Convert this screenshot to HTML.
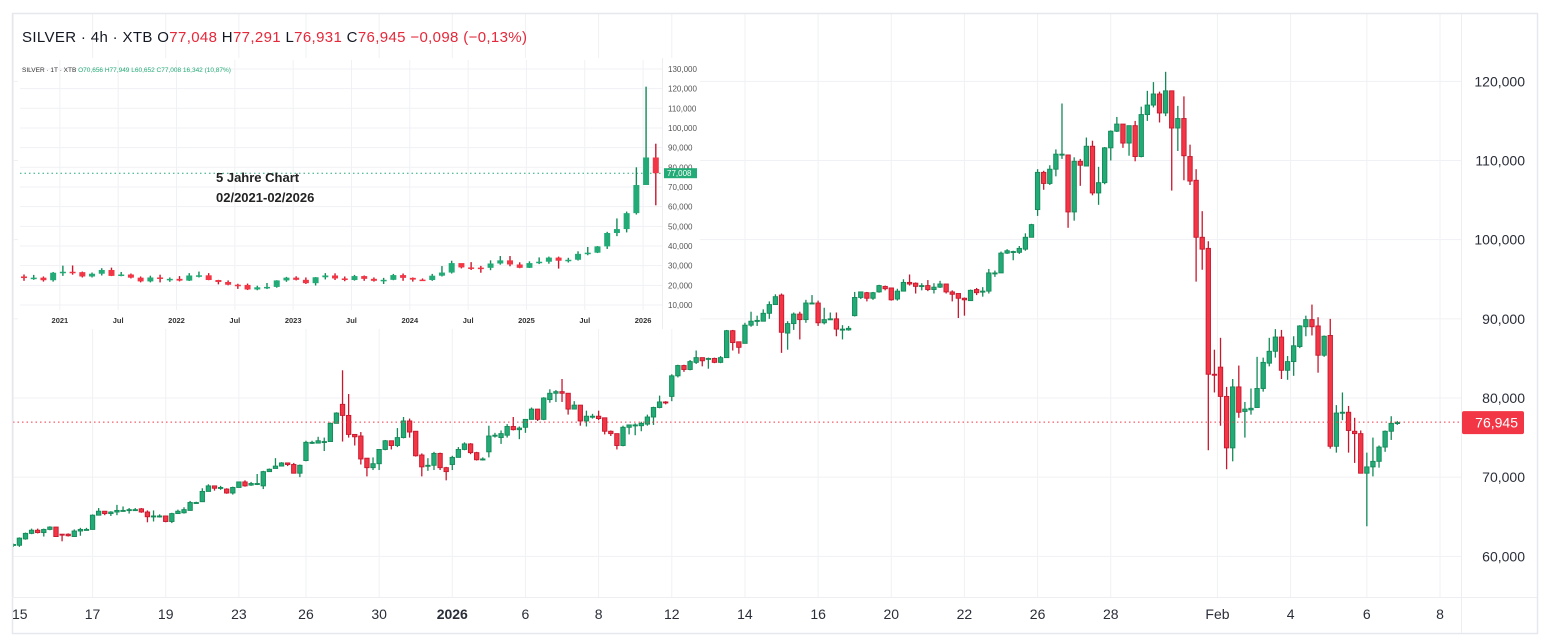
<!DOCTYPE html>
<html><head><meta charset="utf-8"><title>SILVER 4h</title>
<style>
html,body{margin:0;padding:0;background:#fff;}
svg{display:block;font-family:"Liberation Sans",Arial,sans-serif;}
</style></head>
<body>
<svg id="chart" width="1548" height="643" viewBox="0 0 1548 643" xmlns="http://www.w3.org/2000/svg">
  <rect x="0" y="0" width="1548" height="643" fill="#fff"/>
  <g id="grid"></g>
  <g id="candles"></g>
  <g id="inset"></g>
  <g id="axes"></g>
  <text x="22" y="42" font-size="15" fill="#131722" textLength="505" lengthAdjust="spacing">SILVER · 4h · XTB <tspan>O</tspan><tspan fill="#e5283a">77,048</tspan> <tspan>H</tspan><tspan fill="#e5283a">77,291</tspan> <tspan>L</tspan><tspan fill="#e5283a">76,931</tspan> <tspan>C</tspan><tspan fill="#e5283a">76,945</tspan> <tspan fill="#e5283a">−0,098 (−0,13%)</tspan></text>
</svg>
<script>
// ===== Main chart data (prices in thousands) =====
const opens = [61.4,61.4,62.2,62.9,63.3,63.0,63.4,63.7,62.8,62.8,62.5,63.2,63.4,63.4,65.2,65.7,65.4,65.6,65.8,65.8,65.9,66.0,65.6,65.1,65.1,65.1,64.4,65.4,65.5,65.8,66.8,66.9,68.2,68.9,68.7,68.5,68.0,68.7,69.4,69.0,69.2,68.9,70.7,71.1,71.4,71.8,71.6,70.5,72.1,74.4,74.3,74.5,74.5,76.8,79.2,77.8,75.4,75.2,72.4,71.2,71.7,73.5,74.6,74.0,75.0,77.1,75.8,72.8,71.5,71.5,73.0,71.2,71.6,72.5,
73.5,74.2,73.1,72.3,73.2,75.3,75.0,75.3,76.4,76.0,76.3,77.3,78.6,77.3,79.8,80.6,80.8,80.6,78.6,79.1,77.1,77.7,77.7,77.5,75.8,75.5,74.0,76.3,76.6,76.5,76.7,77.6,78.8,79.5,80.2,82.8,84.1,83.6,84.5,85.1,85.0,85.0,84.5,85.1,88.5,87.1,86.9,89.2,89.8,89.7,90.7,91.8,93.0,88.2,89.4,90.6,89.9,92.0,92.0,89.5,90.0,90.0,88.7,88.6,90.4,92.7,93.3,92.6,93.4,
94.1,93.9,92.5,93.5,94.6,94.5,94.2,94.2,93.7,94.0,94.4,93.4,93.2,92.6,92.3,93.7,93.5,93.5,95.8,95.8,98.3,98.5,98.4,98.8,100.3,103.8,108.5,107.1,108.9,110.8,110.7,103.5,109.9,109.3,111.8,105.9,107.2,111.6,113.7,114.6,112.2,114.4,110.5,115.8,117.0,118.4,116.0,118.8,114.1,115.3,110.5,107.5,
100.3,98.9,83.0,83.9,80.2,73.7,81.4,78.3,78.5,78.8,81.2,84.4,85.9,87.7,83.5,84.6,86.5,89.0,89.9,89.1,85.4,87.9,73.9,78.2,78.2,75.8,75.5,70.5,71.3,72.0,73.8,75.8,76.9];
const closes = [61.5,62.3,62.9,63.3,63.0,63.4,63.7,62.5,62.7,62.6,63.2,63.4,63.4,65.2,65.7,65.4,65.6,65.8,65.8,65.9,65.9,65.6,65.0,65.1,65.1,64.4,65.4,65.7,65.9,66.8,66.8,68.2,68.9,68.6,68.7,68.0,68.7,69.4,68.9,69.2,69.2,70.7,71.0,71.4,71.8,71.6,70.5,71.5,74.4,74.4,74.6,74.5,76.8,78.1,77.8,75.4,75.1,72.3,71.2,71.7,73.5,74.6,74.0,75.0,77.1,75.7,72.7,71.3,71.5,73.0,71.2,70.7,72.5,73.5,
74.2,73.1,72.2,72.3,75.2,75.3,75.5,76.4,76.0,76.2,77.3,78.6,77.3,80.0,80.6,80.8,80.6,78.6,79.1,77.1,77.7,77.7,77.4,75.8,75.5,74.0,76.3,76.6,76.6,76.8,77.6,78.8,79.5,79.4,82.8,84.1,83.6,84.6,85.1,84.7,85.0,84.5,85.1,88.5,87.0,86.4,89.2,89.7,89.8,90.7,91.8,92.8,88.3,89.4,90.6,89.9,92.0,92.0,89.5,89.9,90.0,88.7,88.7,88.8,92.7,93.4,92.6,93.3,94.2,
93.8,92.4,93.5,94.6,94.4,94.1,94.2,93.7,94.0,94.4,93.4,93.1,92.6,92.4,93.6,93.3,93.5,95.8,95.8,98.3,98.6,98.5,98.9,100.3,101.9,108.5,107.1,108.9,110.8,110.8,103.5,109.9,109.4,111.8,105.9,107.2,111.6,113.7,114.6,112.2,114.4,110.5,115.8,117.0,118.4,116.0,118.8,114.1,115.3,110.6,107.4,100.3,
98.8,83.0,82.9,80.2,73.7,81.4,78.2,78.6,78.7,81.2,84.5,85.9,87.7,83.5,84.6,86.6,89.1,89.9,89.0,85.4,87.8,73.9,78.1,78.2,75.9,75.5,70.5,71.3,72.0,73.8,75.8,76.8,76.9];
const highs = [61.6,62.4,63.0,63.5,63.5,63.5,63.8,63.7,62.8,62.9,63.4,63.6,63.6,65.3,66.1,65.7,65.7,66.5,66.3,66.1,66.1,66.1,65.8,65.8,65.3,65.1,65.5,65.9,66.2,67.0,66.9,68.6,69.1,68.9,68.9,68.6,68.8,69.4,69.6,69.4,70.4,70.8,71.1,72.4,71.9,71.8,71.8,71.6,74.6,74.6,75.1,75.0,76.9,78.2,83.5,80.5,75.4,75.7,72.4,72.5,73.5,74.7,74.6,76.2,77.6,77.4,75.8,73.0,72.4,73.2,73.1,71.3,72.7,73.8,
74.4,74.3,73.2,72.5,76.5,75.6,75.9,76.7,77.6,76.4,77.3,78.8,78.6,80.1,81.1,81.0,82.4,80.6,79.6,79.1,78.4,78.0,78.4,77.5,75.9,75.5,76.5,76.6,76.8,77.0,77.9,78.9,80.3,79.6,83.0,84.2,84.2,84.8,86.0,85.1,85.1,85.1,85.3,88.6,88.6,87.1,89.5,90.9,90.4,91.2,92.2,93.1,93.2,89.7,90.8,90.9,92.4,93.0,92.3,91.4,90.8,90.8,89.2,89.1,93.4,93.4,93.4,93.4,94.3,
94.2,93.9,93.8,95.0,95.6,94.6,94.5,94.9,94.5,94.8,94.4,93.6,93.2,92.7,93.7,93.9,94.0,96.3,96.1,98.5,98.8,98.6,99.2,100.8,102.0,108.9,108.7,109.4,111.4,117.2,110.7,110.4,110.2,112.9,112.5,109.2,111.7,113.8,115.5,114.6,114.4,115.0,116.8,118.8,119.9,118.7,121.2,118.8,116.9,118.1,112.0,108.9,
103.6,99.8,86.1,87.6,81.4,82.4,84.1,79.5,81.2,85.2,85.1,87.6,88.7,88.6,85.3,87.8,89.2,90.4,91.8,90.2,87.9,90.0,79.1,80.7,79.0,77.5,75.9,73.1,75.0,74.0,75.9,77.7,77.1];
const lows = [61.2,61.2,62.1,62.8,62.9,62.5,63.3,62.5,61.9,62.5,62.5,62.6,63.3,63.4,65.2,65.2,65.1,65.2,65.8,65.4,65.9,65.5,64.3,64.4,64.9,64.3,64.2,65.4,65.4,65.8,66.8,66.9,68.2,68.3,68.4,67.9,67.8,68.7,68.8,68.9,69.0,68.5,70.7,71.1,71.4,71.4,70.5,70.0,72.0,74.2,74.3,73.3,74.5,76.8,74.5,75.0,74.0,71.6,70.1,70.9,70.9,73.4,73.5,73.8,74.9,75.0,72.6,70.1,70.8,70.9,70.9,69.6,70.9,72.5,
73.4,72.9,72.1,72.1,72.5,75.0,74.2,75.0,75.9,74.8,75.6,77.3,77.1,77.2,79.4,79.5,79.5,77.9,78.6,76.5,76.4,77.4,77.2,75.4,75.2,73.5,73.9,75.4,75.3,75.8,76.5,76.6,78.7,79.2,79.6,82.6,83.3,83.5,84.3,84.0,83.7,84.4,84.4,85.1,86.0,85.6,86.9,89.0,89.1,89.7,90.0,91.8,85.7,86.1,88.6,87.4,89.5,91.9,89.1,89.3,90.0,87.8,87.4,88.5,90.3,92.5,92.2,92.4,93.3,
93.6,92.3,92.3,93.5,94.2,93.2,93.6,93.5,93.2,93.9,93.2,92.2,90.1,90.4,92.3,93.0,92.8,93.2,95.3,95.8,98.2,97.4,98.2,98.6,100.3,103.0,106.3,106.9,108.0,110.2,101.5,102.4,106.8,109.3,105.6,104.4,107.0,110.0,113.6,111.6,110.6,109.9,110.4,115.0,116.7,114.8,115.6,106.2,111.2,107.5,106.9,94.7,
96.2,73.4,80.7,76.5,71.0,72.0,77.5,75.0,77.9,78.8,80.8,84.0,85.1,82.4,82.3,82.8,86.3,87.8,87.9,83.2,85.2,73.6,73.1,77.2,73.1,71.8,70.5,63.8,70.1,71.2,73.2,74.7,76.6];
const priceTicks = [60,70,80,90,100,110,120];
const priceTickLabels = ["60,000","70,000","80,000","90,000","100,000","110,000","120,000"];
const dateLabels = ["15","17","19","23","26","30","2026","6","8","12","14","16","20","22","26","28","Feb","4","6","8"];
const dateLabelIdx = [0,13,25,37,48,60,72,84,96,108,120,132,144,156,168,180,197.5,209.5,222,234];
const lastPrice = 76.945;
const lastPriceLabel = "76,945";

// ===== Inset (5-year monthly) data =====
const insetCloses = [23.7,23.9,22.6,26.4,26.9,26.7,24.5,25.9,27.8,24.8,25.5,23.9,22.0,24.0,23.3,23.3,22.4,25.0,25.1,22.7,21.7,20.3,20.2,17.9,19.0,19.2,22.5,23.9,22.8,21.1,24.1,25.0,23.5,22.7,24.7,23.3,22.3,22.8,25.2,23.8,22.9,22.7,24.9,26.5,31.3,29.1,29.0,28.9,31.1,32.7,30.6,28.9,31.3,32.0,34.1,32.5,33.0,36.0,36.6,39.8,46.6,48.6,56.7,71.0,85.0,77.0];
const insetHighs = [25.5,25.3,24.5,26.8,30.0,30.1,27.0,26.5,28.7,29.0,26.8,26.0,24.5,24.9,25.4,24.0,24.7,26.2,27.0,26.2,22.8,22.5,20.8,20.9,19.8,21.2,22.6,24.3,24.6,24.0,24.2,26.2,26.1,24.5,25.3,25.0,24.0,23.8,25.8,26.0,24.0,23.5,25.8,29.8,32.5,31.0,31.8,29.9,32.7,34.9,34.9,31.7,32.2,34.2,34.6,34.6,34.0,37.3,39.5,40.0,47.2,54.0,57.5,80.0,121.0,92.0];
const insetLows = [22.3,22.8,21.9,21.9,24.8,25.4,24.0,24.0,25.0,24.7,24.6,23.5,21.5,21.5,21.5,21.8,22.0,22.2,24.0,22.6,20.5,20.0,18.2,17.6,17.5,18.1,18.8,21.8,22.5,20.7,19.9,23.0,22.7,22.1,22.4,22.3,21.9,20.7,22.6,22.3,21.9,22.3,22.3,24.5,26.0,28.6,27.8,26.4,27.7,30.5,29.7,28.7,28.8,30.8,31.0,28.5,31.6,32.6,35.3,36.4,38.5,45.0,46.9,56.0,71.0,60.7];
const insetFirstOpen = 24.5;
const insetTicks = [10,20,30,40,50,60,70,80,90,100,110,120,130];
const insetTickLabels = ["10,000","20,000","30,000","40,000","50,000","60,000","70,000","80,000","90,000","100,000","110,000","120,000","130,000"];
const insetYearLabels = ["2021","Jul","2022","Jul","2023","Jul","2024","Jul","2025","Jul","2026"];
const insetYearMonthIdx = [4,10,16,22,28,34,40,46,52,58,64];
const insetLast = 77.008;
const insetLastLabel = "77,008";

// ===== Scales =====
const NS = "http://www.w3.org/2000/svg";
function xMain(i){ return 13.3 + i*6.097; }
function yMain(p){ return 398 - (p-80)*7.917; }
function xInset(k){ return 24 + k*9.72; }
function yInset(p){ return 305 - (p-10)*1.967; }
function mk(tag, attrs, parent){
  const e = document.createElementNS(NS, tag);
  for (const k in attrs) e.setAttribute(k, attrs[k]);
  parent.appendChild(e); return e;
}
const UP="#22ab76", UPS="#138a58", DN="#f23645", DNS="#c8172e";

const grid = document.getElementById('grid');
const cg = document.getElementById('candles');
const axes = document.getElementById('axes');
const inset = document.getElementById('inset');

priceTicks.forEach(p=>{
  const l = mk('line',{x1:12,x2:1461,y1:yMain(p),y2:yMain(p),stroke:'#f0f1f4','stroke-width':1},grid);
  
  
});
dateLabelIdx.forEach(i=>{
  const l = mk('line',{x1:xMain(i),x2:xMain(i),y1:14,y2:597,stroke:'#f0f1f4','stroke-width':1},grid);
  
  
});

const clip = mk('clipPath',{id:'plotclip'},document.getElementById('chart'));
mk('rect',{x:13,y:14,width:1448,height:583},clip);
cg.setAttribute('clip-path','url(#plotclip)');
for (let i=0;i<closes.length;i++){
  const o=opens[i], c=closes[i], up=c>=o;
  const x=xMain(i);
  const g = mk('g',{},cg);
  
  
  mk('line',{x1:x,x2:x,y1:yMain(highs[i]),y2:yMain(lows[i]),stroke:up?UPS:DNS,'stroke-width':1.3},g);
  const top=yMain(Math.max(o,c)), bot=yMain(Math.min(o,c));
  mk('rect',{x:x-2.2,y:top,width:4.4,height:Math.max(bot-top,1),fill:up?UP:DN,stroke:up?UPS:DNS,'stroke-width':0.9},g);
}

const lp = mk('line',{x1:13,x2:1461,y1:yMain(lastPrice),y2:yMain(lastPrice),stroke:'#f23645','stroke-width':1,'stroke-dasharray':'1.5 3'},axes);



const frame = mk('rect',{x:12.5,y:13.5,width:1525,height:620,fill:'none',stroke:'#e6e8ee','stroke-width':1.5},axes);


const pa = mk('line',{x1:1461.5,x2:1461.5,y1:14,y2:633,stroke:'#eceef2','stroke-width':1},axes);


const ta = mk('line',{x1:12,x2:1537,y1:597.5,y2:597.5,stroke:'#eceef2','stroke-width':1},axes);



priceTicks.forEach((p,k)=>{
  const t = mk('text',{x:1525,y:yMain(p)+5,'font-size':14,fill:'#2a2e39','text-anchor':'end'},axes);
  t.textContent = priceTickLabels[k];
  
  
});
const lbox = mk('rect',{x:1462,y:yMain(lastPrice)-11,width:62,height:23,fill:'#f23645',rx:2},axes);


const lt = mk('text',{x:1518,y:yMain(lastPrice)+5.5,'font-size':14,fill:'#fff','text-anchor':'end'},axes);
lt.textContent = lastPriceLabel;



dateLabels.forEach((s,k)=>{
  let x = xMain(dateLabelIdx[k]);
  const t = mk('text',{x:x,y:619,'font-size':14,fill:'#2a2e39','text-anchor':'middle'},axes);
  if (s==='2026') t.setAttribute('font-weight','bold');
  if (k===0){ t.setAttribute('text-anchor','start'); t.setAttribute('x',12); }
  t.textContent = s;
  
  
});

// ===== Inset chart =====
const ibg = mk('rect',{x:18,y:58,width:682,height:271,fill:'#fff'},inset);


insetTicks.forEach((p,k)=>{
  const l = mk('line',{x1:20,x2:662,y1:yInset(p),y2:yInset(p),stroke:'#f0f1f4','stroke-width':1},inset);
  
  
  const t = mk('text',{x:668,y:yInset(p)+3,'font-size':8,fill:'#555'},inset);
  t.textContent = insetTickLabels[k];
  
  
});
insetYearMonthIdx.forEach((m,k)=>{
  const x = xInset(m)-3;
  const l = mk('line',{x1:x,x2:x,y1:60,y2:310,stroke:'#f0f1f4','stroke-width':1},inset);
  
  
  const t = mk('text',{x:x,y:323,'font-size':7.5,fill:'#333','text-anchor':'middle','font-weight':'bold'},inset);
  t.textContent = insetYearLabels[k];
  
  
});
const iax = mk('line',{x1:662.5,x2:662.5,y1:58,y2:329,stroke:'#eceef2','stroke-width':1},inset);


const ill = mk('line',{x1:20,x2:662,y1:yInset(insetLast),y2:yInset(insetLast),stroke:'#22ab76','stroke-width':1,'stroke-dasharray':'1.5 3'},inset);


const ilb = mk('rect',{x:664,y:yInset(insetLast)-5,width:33,height:10,fill:'#22ab76'},inset);


const ilt = mk('text',{x:667,y:yInset(insetLast)+3,'font-size':8,fill:'#fff'},inset);
ilt.textContent = insetLastLabel;


let prev = insetFirstOpen;
for (let k=0;k<insetCloses.length;k++){
  const o=prev, c=insetCloses[k], up=c>=o, x=xInset(k);
  const g = mk('g',{},inset);
  
  
  mk('line',{x1:x,x2:x,y1:yInset(insetHighs[k]),y2:yInset(insetLows[k]),stroke:up?UPS:DNS,'stroke-width':1.4},g);
  const top=yInset(Math.max(o,c)), bot=yInset(Math.min(o,c));
  mk('rect',{x:x-3,y:top,width:6,height:Math.max(bot-top,1.5),fill:up?UP:DN},g);
  prev = c;
}
const ih = mk('text',{x:22,y:72,'font-size':6.5,fill:'#333'},inset);
ih.innerHTML = 'SILVER · 1T · XTB <tspan fill="#22ab76">O70,656 H77,949 L60,652 C77,008 16,342 (10,87%)</tspan>';


const n1 = mk('text',{x:216,y:182,'font-size':13,'font-weight':'bold',fill:'#222'},inset);
n1.textContent = '5 Jahre Chart';


const n2 = mk('text',{x:216,y:202,'font-size':13,'font-weight':'bold',fill:'#222'},inset);
n2.textContent = '02/2021-02/2026';


</script>
</body></html>
